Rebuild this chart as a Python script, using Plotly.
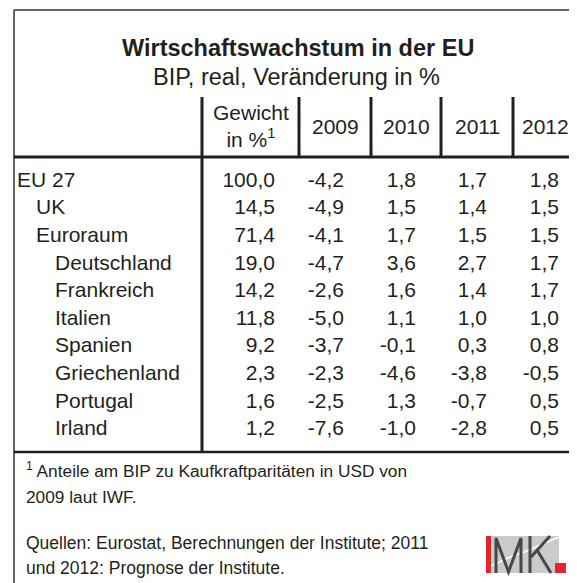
import plotly.graph_objects as go

# ---------------- data ----------------
table_label = "Tabelle 1"
title = "Wirtschaftswachstum in der EU"
subtitle = "BIP, real, Veränderung in %"
col_headers = ["Gewicht<br>in %<sup>1</sup>", "2009", "2010", "2011", "2012"]
countries = ["EU 27", "UK", "Euroraum", "Deutschland", "Frankreich", "Italien",
             "Spanien", "Griechenland", "Portugal", "Irland"]
levels = [0, 1, 1, 2, 2, 2, 2, 2, 2, 2]
weight = ["100,0", "14,5", "71,4", "19,0", "14,2", "11,8", "9,2", "2,3", "1,6", "1,2"]
g2009 = ["-4,2", "-4,9", "-4,1", "-4,7", "-2,6", "-5,0", "-3,7", "-2,3", "-2,5", "-7,6"]
g2010 = ["1,8", "1,5", "1,7", "3,6", "1,6", "1,1", "-0,1", "-4,6", "1,3", "-1,0"]
g2011 = ["1,7", "1,4", "1,5", "2,7", "1,4", "1,0", "0,3", "-3,8", "-0,7", "-2,8"]
g2012 = ["1,8", "1,5", "1,5", "1,7", "1,7", "1,0", "0,8", "-0,5", "0,5", "0,5"]
footnote = ["<sup>1</sup> Anteile am BIP zu Kaufkraftparitäten in USD von",
            "2009 laut IWF."]
sources = ["Quellen: Eurostat, Berechnungen der Institute; 2011",
           "und 2012: Prognose der Institute."]

# ---------------- layout constants ----------------
W, H = 577, 583
OFF = 8  # page body margin; axis coordinates equal page pixels
FONT = "Liberation Sans, Arial, sans-serif"
TXT = "#231f20"
row_y0, row_step = 181.5, 27.6
indent_x = [17, 36, 55]
value_cols = [weight, g2009, g2010, g2011, g2012]
value_right = [275, 344, 416, 487, 559]
header_cx = [251, 335, 406, 477, 545]
vlines = [202, 299, 371, 441, 513]

fig = go.Figure()

row_y = [row_y0 + i * row_step for i in range(len(countries))]

# row labels
fig.add_trace(go.Scatter(
    x=[indent_x[l] for l in levels], y=row_y, mode="text", text=countries,
    textposition="middle right", textfont=dict(family=FONT, size=21, color=TXT),
    hoverinfo="skip", showlegend=False))

# value columns (right aligned)
for col, xr in zip(value_cols, value_right):
    fig.add_trace(go.Scatter(
        x=[xr] * len(col), y=row_y, mode="text", text=col,
        textposition="middle left", textfont=dict(family=FONT, size=21, color=TXT),
        hoverinfo="skip", showlegend=False))

ann = []
ann.append(dict(x=22, y=10, text=table_label, xanchor="left", yanchor="bottom",
                font=dict(family=FONT, size=16, color=TXT)))
ann.append(dict(x=298, y=48, text="<b>" + title + "</b>", xanchor="center", yanchor="middle",
                font=dict(family=FONT, size=23.5, color=TXT)))
ann.append(dict(x=296, y=77, text=subtitle, xanchor="center", yanchor="middle",
                font=dict(family=FONT, size=23.5, color=TXT)))
for i, (h, cx) in enumerate(zip(col_headers, header_cx)):
    ann.append(dict(x=cx, y=126 if i else 126, text=h, xanchor="center", yanchor="middle",
                    font=dict(family=FONT, size=21, color=TXT)))
for i, t in enumerate(footnote):
    ann.append(dict(x=24, y=470 + i * 27, text=t, xanchor="left", yanchor="middle",
                    font=dict(family=FONT, size=17.3, color=TXT)))
for i, t in enumerate(sources):
    ann.append(dict(x=24, y=543 + i * 25, text=t, xanchor="left", yanchor="middle",
                    font=dict(family=FONT, size=17.5, color=TXT)))
for a in ann:
    a.update(xref="x", yref="y", showarrow=False, align="center")

shapes = []
LC = "#231f20"
# outer frame
shapes.append(dict(type="line", x0=14, x1=W + 2, y0=10, y1=10, line=dict(color="#333", width=1.5)))
shapes.append(dict(type="line", x0=14, x1=14, y0=10, y1=H + 2, line=dict(color="#333", width=1.5)))
# header vertical lines
for i, vx in enumerate(vlines):
    shapes.append(dict(type="line", x0=vx, x1=vx, y0=97, y1=452 if i == 0 else 157,
                       line=dict(color=LC, width=3)))
# horizontal lines
shapes.append(dict(type="line", x0=14, x1=W + 2, y0=157, y1=157, line=dict(color=LC, width=3)))
shapes.append(dict(type="line", x0=14, x1=W + 2, y0=452, y1=452, line=dict(color=LC, width=2.5)))

# IMK logo
shapes.append(dict(type="rect", x0=486, x1=559, y0=536, y1=573, fillcolor="#c9cbcd", line=dict(width=0)))
shapes.append(dict(type="path", path="M 491 566 L 512 556 L 522 553 L 559 537",
                   line=dict(color="white", width=1.5)))
shapes.append(dict(type="rect", x0=486, x1=491, y0=536, y1=573, fillcolor="#e3262b", line=dict(width=0)))
shapes.append(dict(type="path", path="M 496 573 L 496 538 L 508.5 572 L 521 538 L 521 573",
                   line=dict(color="#45484b", width=3)))
shapes.append(dict(type="path", path="M 530 536 L 530 573", line=dict(color="#45484b", width=3)))
shapes.append(dict(type="path", path="M 550 536 L 531 557 M 537 550 L 551 573",
                   line=dict(color="#45484b", width=3)))
shapes.append(dict(type="rect", x0=555, x1=566, y0=563, y1=573, fillcolor="#e3262b", line=dict(width=0)))

fig.update_layout(
    width=W - OFF, height=H - OFF, margin=dict(l=0, r=0, t=0, b=0),
    paper_bgcolor="white", plot_bgcolor="white",
    xaxis=dict(range=[OFF, W], visible=False, fixedrange=True),
    yaxis=dict(range=[H, OFF], visible=False, fixedrange=True),
    annotations=ann, shapes=shapes, showlegend=False,
)
fig.write_html("out.html", config={"displayModeBar": False})
